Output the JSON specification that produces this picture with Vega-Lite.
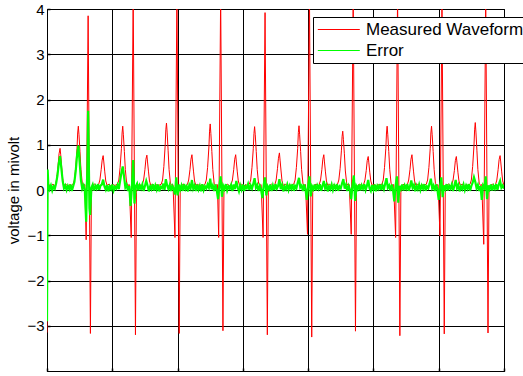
{
"$schema": "https://vega.github.io/schema/vega-lite/v6.json",
"width": 457, "height": 362,
"autosize": {"type": "none"},
"padding": {"left": 47, "top": 9, "right": 19, "bottom": 5},
"background": "white",
"config": {
  "view": {"stroke": "black", "strokeWidth": 1},
  "font": "Liberation Sans",
  "axis": {"grid": true, "gridColor": "black", "gridOpacity": 1, "gridWidth": 1, "domainColor": "black", "domainWidth": 1, "tickColor": "black", "tickSize": -3, "tickWidth": 1.5, "labelColor": "black", "labelFont": "Liberation Sans", "labelFontSize": 15, "titleColor": "black", "titleFont": "Liberation Sans", "titleFontWeight": "normal"}
},
"datasets": {
"wave": [
{"s":0,"v":-3.15},{"s":1,"v":0.1},{"s":3,"v":0.12},{"s":6,"v":0.08},{"s":9,"v":0.13},{"s":12,"v":0.1},
{"s":13,"v":0.12},{"s":15,"v":0.25},{"s":17,"v":0.55},{"s":18.5,"v":0.8},{"s":20,"v":0.92},{"s":21,"v":0.78},{"s":22.5,"v":0.5},{"s":24,"v":0.25},{"s":26,"v":0.1},
{"s":29,"v":0.13},{"s":32,"v":0.08},{"s":35,"v":0.12},{"s":38,"v":0.1},
{"s":40,"v":0.13},{"s":42,"v":0.22},{"s":44,"v":0.5},{"s":46,"v":0.92},{"s":47,"v":1.26},{"s":48,"v":1.41},{"s":49,"v":1.22},{"s":50.5,"v":0.85},{"s":52,"v":0.45},{"s":54,"v":0.15},{"s":56,"v":0.1},
{"s":58,"v":0.12},{"s":60,"v":-1.1},{"s":63,"v":3.85},{"s":66.5,"v":-3.17},{"s":68,"v":-0.05},{"s":70,"v":0.1},{"s":73,"v":0.13},{"s":76,"v":0.09},
{"s":79,"v":0.12},{"s":81,"v":0.22},{"s":83,"v":0.45},{"s":84.5,"v":0.66},{"s":86,"v":0.76},{"s":87,"v":0.62},{"s":88.5,"v":0.4},{"s":90,"v":0.2},{"s":92,"v":0.1},
{"s":95,"v":0.13},{"s":98,"v":0.08},{"s":101,"v":0.12},{"s":104,"v":0.1},
{"s":108,"v":0.13},{"s":110,"v":0.22},{"s":112,"v":0.5},{"s":114,"v":0.92},{"s":115,"v":1.26},{"s":116,"v":1.41},{"s":117,"v":1.22},{"s":118.5,"v":0.85},{"s":120,"v":0.45},{"s":122,"v":0.15},{"s":124,"v":0.1},
{"s":126,"v":0.12},{"s":129,"v":-1.05},{"s":132,"v":4.3},{"s":135.5,"v":-3.2},{"s":137,"v":-0.05},{"s":139,"v":0.1},{"s":142,"v":0.13},{"s":144,"v":0.09},
{"s":146,"v":0.12},{"s":148,"v":0.22},{"s":150,"v":0.45},{"s":151.5,"v":0.68},{"s":153,"v":0.77},{"s":154,"v":0.62},{"s":155.5,"v":0.4},{"s":157,"v":0.2},{"s":159,"v":0.1},
{"s":162,"v":0.13},{"s":165,"v":0.08},{"s":168,"v":0.12},{"s":171,"v":0.1},
{"s":175,"v":0.13},{"s":177,"v":0.22},{"s":179,"v":0.52},{"s":181,"v":0.98},{"s":182,"v":1.33},{"s":183,"v":1.48},{"s":184,"v":1.28},{"s":185.5,"v":0.88},{"s":187,"v":0.45},{"s":189,"v":0.15},{"s":191,"v":0.1},
{"s":193,"v":0.12},{"s":196,"v":-1.05},{"s":199,"v":4.3},{"s":202.5,"v":-3.17},{"s":204,"v":-0.05},{"s":206,"v":0.1},{"s":209,"v":0.13},{"s":212,"v":0.09},
{"s":215,"v":0.12},{"s":217,"v":0.22},{"s":219,"v":0.45},{"s":220.5,"v":0.68},{"s":222,"v":0.78},{"s":223,"v":0.62},{"s":224.5,"v":0.4},{"s":226,"v":0.2},{"s":228,"v":0.1},
{"s":231,"v":0.13},{"s":234,"v":0.08},{"s":237,"v":0.12},{"s":240,"v":0.1},
{"s":242,"v":0.13},{"s":244,"v":0.22},{"s":246,"v":0.5},{"s":248,"v":0.95},{"s":249,"v":1.3},{"s":250,"v":1.46},{"s":251,"v":1.25},{"s":252.5,"v":0.85},{"s":254,"v":0.45},{"s":256,"v":0.15},{"s":258,"v":0.1},
{"s":261,"v":0.12},{"s":263,"v":-1.05},{"s":266,"v":4.3},{"s":269.5,"v":-3.11},{"s":271,"v":-0.05},{"s":273,"v":0.1},{"s":276,"v":0.13},{"s":279,"v":0.09},
{"s":282,"v":0.12},{"s":284,"v":0.22},{"s":286,"v":0.45},{"s":287.5,"v":0.68},{"s":289,"v":0.78},{"s":290,"v":0.62},{"s":291.5,"v":0.4},{"s":293,"v":0.2},{"s":295,"v":0.1},
{"s":298,"v":0.13},{"s":301,"v":0.08},{"s":304,"v":0.12},{"s":307,"v":0.1},
{"s":310,"v":0.13},{"s":312,"v":0.22},{"s":314,"v":0.5},{"s":316,"v":0.92},{"s":317,"v":1.25},{"s":318,"v":1.4},{"s":319,"v":1.22},{"s":320.5,"v":0.85},{"s":322,"v":0.45},{"s":324,"v":0.15},{"s":326,"v":0.1},
{"s":328,"v":0.12},{"s":331,"v":-1.05},{"s":334,"v":3.92},{"s":337.5,"v":-3.2},{"s":339,"v":-0.05},{"s":341,"v":0.1},{"s":344,"v":0.13},{"s":347,"v":0.09},
{"s":349,"v":0.12},{"s":351,"v":0.22},{"s":353,"v":0.47},{"s":354.5,"v":0.7},{"s":356,"v":0.82},{"s":357,"v":0.66},{"s":358.5,"v":0.42},{"s":360,"v":0.2},{"s":362,"v":0.1},
{"s":365,"v":0.13},{"s":368,"v":0.08},{"s":371,"v":0.12},{"s":374,"v":0.1},
{"s":378,"v":0.13},{"s":380,"v":0.22},{"s":382,"v":0.5},{"s":384,"v":0.92},{"s":385,"v":1.27},{"s":386,"v":1.42},{"s":387,"v":1.22},{"s":388.5,"v":0.85},{"s":390,"v":0.45},{"s":392,"v":0.15},{"s":394,"v":0.1},
{"s":396,"v":0.12},{"s":399,"v":-0.98},{"s":402,"v":4.3},{"s":405.5,"v":-3.25},{"s":407,"v":-0.05},{"s":409,"v":0.1},{"s":412,"v":0.13},{"s":415,"v":0.09},
{"s":417,"v":0.12},{"s":419,"v":0.22},{"s":421,"v":0.45},{"s":422.5,"v":0.68},{"s":424,"v":0.78},{"s":425,"v":0.62},{"s":426.5,"v":0.4},{"s":428,"v":0.2},{"s":430,"v":0.1},
{"s":433,"v":0.13},{"s":436,"v":0.08},{"s":439,"v":0.12},{"s":442,"v":0.1},
{"s":445,"v":0.13},{"s":447,"v":0.22},{"s":449,"v":0.48},{"s":451,"v":0.88},{"s":452,"v":1.18},{"s":453,"v":1.3},{"s":454,"v":1.12},{"s":455.5,"v":0.8},{"s":457,"v":0.42},{"s":459,"v":0.15},{"s":461,"v":0.1},
{"s":463,"v":0.12},{"s":466,"v":-0.98},{"s":469,"v":4.3},{"s":472.5,"v":-3.12},{"s":474,"v":-0.05},{"s":476,"v":0.1},{"s":479,"v":0.13},{"s":482,"v":0.09},
{"s":485,"v":0.12},{"s":487,"v":0.22},{"s":489,"v":0.43},{"s":490.5,"v":0.65},{"s":492,"v":0.74},{"s":493,"v":0.6},{"s":494.5,"v":0.38},{"s":496,"v":0.2},{"s":498,"v":0.1},
{"s":501,"v":0.13},{"s":504,"v":0.08},{"s":507,"v":0.12},{"s":510,"v":0.1},
{"s":513,"v":0.13},{"s":515,"v":0.22},{"s":517,"v":0.5},{"s":519,"v":0.92},{"s":520,"v":1.26},{"s":521,"v":1.41},{"s":522,"v":1.22},{"s":523.5,"v":0.85},{"s":525,"v":0.45},{"s":527,"v":0.15},{"s":529,"v":0.1},
{"s":531,"v":0.12},{"s":534,"v":-1.05},{"s":537,"v":4.3},{"s":540.5,"v":-3.22},{"s":542,"v":-0.05},{"s":544,"v":0.1},{"s":547,"v":0.13},{"s":550,"v":0.09},
{"s":552,"v":0.12},{"s":554,"v":0.22},{"s":556,"v":0.45},{"s":557.5,"v":0.68},{"s":559,"v":0.78},{"s":560,"v":0.62},{"s":561.5,"v":0.4},{"s":563,"v":0.2},{"s":565,"v":0.1},
{"s":568,"v":0.13},{"s":571,"v":0.08},{"s":574,"v":0.12},{"s":577,"v":0.1},
{"s":581,"v":0.13},{"s":583,"v":0.22},{"s":585,"v":0.5},{"s":587,"v":0.92},{"s":588,"v":1.26},{"s":589,"v":1.41},{"s":590,"v":1.22},{"s":591.5,"v":0.85},{"s":593,"v":0.45},{"s":595,"v":0.15},{"s":597,"v":0.1},
{"s":599,"v":0.12},{"s":602,"v":-1.02},{"s":605,"v":4.1},{"s":608.5,"v":-3.18},{"s":610,"v":-0.05},{"s":612,"v":0.1},{"s":615,"v":0.13},{"s":618,"v":0.09},
{"s":620,"v":0.12},{"s":622,"v":0.22},{"s":624,"v":0.43},{"s":625.5,"v":0.65},{"s":627,"v":0.74},{"s":628,"v":0.6},{"s":629.5,"v":0.38},{"s":631,"v":0.2},{"s":633,"v":0.1},
{"s":636,"v":0.13},{"s":639,"v":0.08},{"s":642,"v":0.12},{"s":645,"v":0.1},
{"s":648,"v":0.13},{"s":650,"v":0.22},{"s":652,"v":0.52},{"s":654,"v":0.98},{"s":655,"v":1.33},{"s":656,"v":1.49},{"s":657,"v":1.28},{"s":658.5,"v":0.88},{"s":660,"v":0.45},{"s":662,"v":0.15},{"s":664,"v":0.1},
{"s":666,"v":0.12},{"s":669,"v":-1.2},{"s":672,"v":4.2},{"s":675.5,"v":-3.16},{"s":677,"v":-0.05},{"s":679,"v":0.1},{"s":682,"v":0.13},{"s":685,"v":0.09},
{"s":687,"v":0.12},{"s":689,"v":0.22},{"s":691,"v":0.45},{"s":692.5,"v":0.67},{"s":694,"v":0.76},{"s":695,"v":0.62},{"s":696.5,"v":0.4},{"s":698,"v":0.2},{"s":700,"v":0.1}
],
"err": [
{"s":0,"v":-2.9},{"s":1,"v":0.45},{"s":2,"v":0.12},{"s":4,"v":0.02},{"s":6,"v":0.1},{"s":8,"v":-0.01},{"s":10,"v":0.08},{"s":12,"v":0.03},{"s":14,"v":0.15},{"s":16,"v":0.32},{"s":18,"v":0.58},{"s":20,"v":0.75},{"s":22,"v":0.48},{"s":24,"v":0.2},{"s":26,"v":0.04},{"s":28,"v":0.1},{"s":30,"v":0.0},{"s":32,"v":0.09},{"s":34,"v":0.02},{"s":36,"v":0.12},{"s":38,"v":-0.02},{"s":40,"v":0.08},{"s":42,"v":0.18},{"s":44,"v":0.42},{"s":46,"v":0.76},{"s":48,"v":0.98},{"s":50,"v":0.62},{"s":52,"v":0.22},{"s":54,"v":0.03},{"s":56,"v":0.1},{"s":58,"v":-0.02},{"s":60,"v":-0.7},{"s":61,"v":0.1},{"s":62,"v":0.5},{"s":63,"v":1.75},{"s":64,"v":0.7},{"s":65,"v":-0.4},{"s":66,"v":-0.55},{"s":68,"v":0.05},{"s":70,"v":0.12},{"s":72,"v":-0.01},{"s":74,"v":0.09},{"s":76,"v":0.03},{"s":78,"v":0.13},{"s":80,"v":0.0},{"s":82,"v":0.1},{"s":84,"v":0.12},{"s":86,"v":0.23},{"s":88,"v":0.08},{"s":90,"v":0.01},{"s":92,"v":0.11},{"s":94,"v":-0.03},{"s":96,"v":0.08},{"s":98,"v":0.02},{"s":100,"v":0.12},
{"s":102,"v":-0.01},{"s":104,"v":0.07},{"s":106,"v":0.03},{"s":108,"v":0.11},{"s":110,"v":0.02},{"s":112,"v":0.2},{"s":114,"v":0.38},{"s":116,"v":0.52},{"s":118,"v":0.3},{"s":120,"v":0.06},{"s":122,"v":0.12},{"s":124,"v":-0.02},{"s":126,"v":0.09},{"s":128,"v":-0.35},{"s":130,"v":0.05},{"s":132,"v":0.66},{"s":133,"v":0.2},{"s":134,"v":-0.3},{"s":136,"v":0.08},{"s":138,"v":0.14},{"s":140,"v":-0.01},{"s":142,"v":0.1},{"s":144,"v":0.03},{"s":146,"v":0.12},{"s":148,"v":-0.02},{"s":150,"v":0.09},{"s":152,"v":0.2},{"s":154,"v":0.1},{"s":156,"v":-0.03},{"s":158,"v":0.08},{"s":160,"v":0.02},{"s":162,"v":0.13},{"s":164,"v":-0.01},{"s":166,"v":0.1},{"s":168,"v":0.01},{"s":170,"v":0.12},{"s":172,"v":-0.03},{"s":174,"v":0.07},{"s":176,"v":0.04},{"s":178,"v":0.14},{"s":180,"v":0.0},{"s":182,"v":0.24},{"s":184,"v":0.1},{"s":186,"v":0.02},{"s":188,"v":0.11},{"s":190,"v":-0.02},{"s":192,"v":0.09},{"s":194,"v":0.03},{"s":196,"v":-0.1},{"s":198,"v":0.28},{"s":200,"v":-0.12},
{"s":202,"v":0.12},{"s":204,"v":0.01},{"s":206,"v":0.1},{"s":208,"v":-0.02},{"s":210,"v":0.13},{"s":212,"v":0.02},{"s":214,"v":0.08},{"s":216,"v":-0.03},{"s":218,"v":0.11},{"s":220,"v":0.04},{"s":222,"v":0.22},{"s":224,"v":0.03},{"s":226,"v":0.1},{"s":228,"v":-0.02},{"s":230,"v":0.12},{"s":232,"v":0.01},{"s":234,"v":0.09},{"s":236,"v":-0.03},{"s":238,"v":0.13},{"s":240,"v":0.0},{"s":242,"v":0.08},{"s":244,"v":0.03},{"s":246,"v":0.12},{"s":248,"v":0.05},{"s":250,"v":0.25},{"s":252,"v":0.02},{"s":254,"v":0.1},{"s":256,"v":-0.02},{"s":258,"v":0.12},{"s":260,"v":0.0},{"s":262,"v":-0.2},{"s":264,"v":0.1},{"s":266,"v":0.3},{"s":268,"v":-0.15},{"s":270,"v":0.09},{"s":272,"v":0.02},{"s":274,"v":0.13},{"s":276,"v":-0.01},{"s":278,"v":0.08},{"s":280,"v":0.03},{"s":282,"v":0.11},{"s":284,"v":-0.02},{"s":286,"v":0.12},{"s":288,"v":0.02},{"s":290,"v":0.2},{"s":292,"v":0.06},{"s":294,"v":-0.03},{"s":296,"v":0.1},{"s":298,"v":0.01},{"s":300,"v":0.12},
{"s":302,"v":-0.02},{"s":304,"v":0.08},{"s":306,"v":0.04},{"s":308,"v":0.13},{"s":310,"v":0.0},{"s":312,"v":0.1},{"s":314,"v":0.03},{"s":316,"v":0.14},{"s":318,"v":0.26},{"s":320,"v":0.05},{"s":322,"v":0.11},{"s":324,"v":-0.02},{"s":326,"v":0.09},{"s":328,"v":0.01},{"s":330,"v":-0.18},{"s":332,"v":0.12},{"s":334,"v":0.28},{"s":336,"v":-0.12},{"s":338,"v":0.08},{"s":340,"v":0.02},{"s":342,"v":0.12},{"s":344,"v":-0.02},{"s":346,"v":0.1},{"s":348,"v":0.0},{"s":350,"v":0.13},{"s":352,"v":0.03},{"s":354,"v":0.09},{"s":356,"v":0.24},{"s":358,"v":0.02},{"s":360,"v":0.11},{"s":362,"v":-0.03},{"s":364,"v":0.08},{"s":366,"v":0.02},{"s":368,"v":0.12},{"s":370,"v":0.0},{"s":372,"v":0.1},{"s":374,"v":0.03},{"s":376,"v":0.13},{"s":378,"v":-0.02},{"s":380,"v":0.09},{"s":382,"v":0.04},{"s":384,"v":0.16},{"s":386,"v":0.27},{"s":388,"v":0.06},{"s":390,"v":0.1},{"s":392,"v":-0.02},{"s":394,"v":0.12},{"s":396,"v":0.01},{"s":398,"v":-0.22},{"s":400,"v":0.1},
{"s":402,"v":0.3},{"s":404,"v":-0.14},{"s":406,"v":0.08},{"s":408,"v":0.02},{"s":410,"v":0.12},{"s":412,"v":-0.01},{"s":414,"v":0.1},{"s":416,"v":0.03},{"s":418,"v":0.13},{"s":420,"v":-0.02},{"s":422,"v":0.09},{"s":424,"v":0.2},{"s":426,"v":0.04},{"s":428,"v":0.11},{"s":430,"v":-0.03},{"s":432,"v":0.08},{"s":434,"v":0.02},{"s":436,"v":0.12},{"s":438,"v":0.0},{"s":440,"v":0.1},{"s":442,"v":0.03},{"s":444,"v":0.13},{"s":446,"v":-0.02},{"s":448,"v":0.08},{"s":450,"v":0.04},{"s":452,"v":0.15},{"s":454,"v":0.24},{"s":456,"v":0.03},{"s":458,"v":0.11},{"s":460,"v":-0.02},{"s":462,"v":0.09},{"s":464,"v":0.01},{"s":466,"v":-0.2},{"s":468,"v":0.12},{"s":470,"v":0.32},{"s":472,"v":-0.24},{"s":474,"v":0.08},{"s":476,"v":0.02},{"s":478,"v":0.12},{"s":480,"v":-0.01},{"s":482,"v":0.1},{"s":484,"v":0.03},{"s":486,"v":0.13},{"s":488,"v":0.0},{"s":490,"v":0.09},{"s":492,"v":0.22},{"s":494,"v":0.04},{"s":496,"v":-0.02},{"s":498,"v":0.11},{"s":500,"v":0.01},
{"s":502,"v":0.12},{"s":504,"v":-0.03},{"s":506,"v":0.09},{"s":508,"v":0.03},{"s":510,"v":0.13},{"s":512,"v":0.0},{"s":514,"v":0.1},{"s":516,"v":0.02},{"s":518,"v":0.14},{"s":520,"v":0.26},{"s":522,"v":0.05},{"s":524,"v":0.1},{"s":526,"v":-0.02},{"s":528,"v":0.12},{"s":530,"v":0.01},{"s":532,"v":-0.25},{"s":534,"v":0.1},{"s":536,"v":0.3},{"s":538,"v":-0.28},{"s":540,"v":0.09},{"s":542,"v":0.02},{"s":544,"v":0.12},{"s":546,"v":-0.01},{"s":548,"v":0.1},{"s":550,"v":0.03},{"s":552,"v":0.13},{"s":554,"v":-0.02},{"s":556,"v":0.08},{"s":558,"v":0.21},{"s":560,"v":0.05},{"s":562,"v":0.11},{"s":564,"v":-0.03},{"s":566,"v":0.09},{"s":568,"v":0.02},{"s":570,"v":0.12},{"s":572,"v":0.0},{"s":574,"v":0.1},{"s":576,"v":0.03},{"s":578,"v":0.13},{"s":580,"v":-0.02},{"s":582,"v":0.08},{"s":584,"v":0.04},{"s":586,"v":0.14},{"s":588,"v":0.25},{"s":590,"v":0.04},{"s":592,"v":0.1},{"s":594,"v":-0.02},{"s":596,"v":0.12},{"s":598,"v":0.01},{"s":600,"v":-0.22},
{"s":602,"v":0.09},{"s":604,"v":0.28},{"s":606,"v":-0.16},{"s":608,"v":0.1},{"s":610,"v":0.02},{"s":612,"v":0.13},{"s":614,"v":-0.01},{"s":616,"v":0.09},{"s":618,"v":0.03},{"s":620,"v":0.12},{"s":622,"v":-0.02},{"s":624,"v":0.1},{"s":626,"v":0.22},{"s":628,"v":0.04},{"s":630,"v":0.11},{"s":632,"v":-0.03},{"s":634,"v":0.08},{"s":636,"v":0.02},{"s":638,"v":0.12},{"s":640,"v":0.0},{"s":642,"v":0.1},{"s":644,"v":0.03},{"s":646,"v":0.13},{"s":648,"v":-0.02},{"s":650,"v":0.09},{"s":652,"v":0.16},{"s":654,"v":0.28},{"s":656,"v":0.18},{"s":658,"v":0.04},{"s":660,"v":0.11},{"s":662,"v":-0.02},{"s":664,"v":0.09},{"s":666,"v":-0.22},{"s":668,"v":0.1},{"s":670,"v":0.05},{"s":672,"v":0.3},{"s":674,"v":-0.2},{"s":676,"v":0.1},{"s":678,"v":0.02},{"s":680,"v":0.12},{"s":682,"v":-0.01},{"s":684,"v":0.09},{"s":686,"v":0.03},{"s":688,"v":0.13},{"s":690,"v":0.0},{"s":692,"v":0.12},{"s":694,"v":0.2},{"s":696,"v":0.05},{"s":698,"v":0.1},{"s":700,"v":0.03}
]
},
"layer": [
  {
    "data": {"name": "wave"},
    "mark": {"type": "line", "strokeWidth": 1, "clip": true},
    "encoding": {
      "x": {"field": "s", "type": "quantitative", "scale": {"domain": [0, 700], "nice": false},
            "axis": {"values": [0,100,200,300,400,500,600,700], "labels": false, "title": null}},
      "y": {"field": "v", "type": "quantitative", "scale": {"domain": [-4, 4], "nice": false},
            "axis": {"values": [-3,-2,-1,0,1,2,3,4], "labelPadding": 6, "title": "voltage in mivolt", "titleFontSize": 15, "titlePadding": 5}},
      "color": {"datum": "Measured Waveform", "type": "nominal",
                "scale": {"domain": ["Measured Waveform", "Error"], "range": ["#ff0000", "#00ff00"]},
                "legend": {"title": null, "orient": "none", "legendX": 266, "legendY": 8,
                           "symbolType": "M-2.2,0H9.8", "symbolSize": 49, "symbolStrokeWidth": 1,
                           "labelFontSize": 17, "labelFont": "Liberation Sans", "labelColor": "black", "labelOffset": 32,
                           "strokeColor": "black", "fillColor": "white", "padding": 4, "rowPadding": 3}}
    }
  },
  {
    "data": {"name": "err"},
    "mark": {"type": "line", "strokeWidth": 2.2, "clip": true},
    "encoding": {
      "x": {"field": "s", "type": "quantitative"},
      "y": {"field": "v", "type": "quantitative"},
      "color": {"datum": "Error", "type": "nominal"}
    }
  }
]
}
